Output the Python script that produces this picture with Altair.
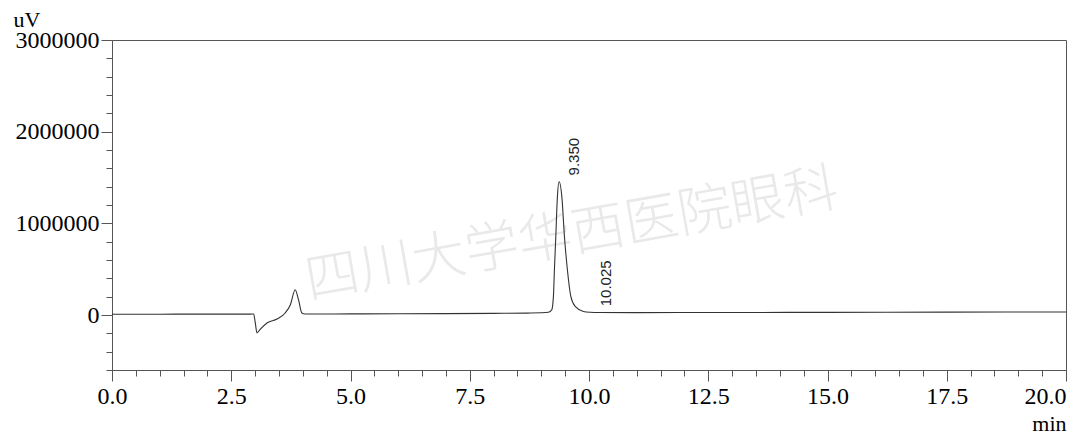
import altair as alt
import pandas as pd

# ---- chromatogram trace (retention time in min, signal in uV) ----
times = [0.0, 1.0, 2.0, 2.9, 2.97, 3.00, 3.04, 3.10, 3.25, 3.46, 3.63, 3.74, 3.84, 3.91, 3.98, 4.05,
         5.0, 6.0, 7.0, 8.0, 8.7, 9.0, 9.15, 9.22, 9.254, 9.275, 9.304, 9.338, 9.373, 9.43, 9.485,
         9.547, 9.619, 9.71, 9.883, 10.025, 10.2, 11.0, 12.5, 15.0, 17.5, 20.0]
signal = [8000, 9000, 10000, 10000, 11000, -73000, -196000, -160000, -87000, -44000, 22000, 112000,
          276000, 167000, 22000, 11000,
          12000, 13000, 15000, 18000, 21000, 24000, 30000, 58000, 203000, 494000, 857000, 1294000,
          1457000, 1294000, 857000, 494000, 203000, 94000, 39000, 30000, 27000, 26000, 27000, 29000,
          31000, 33000]

# ---- peak annotations ----
peak_times = [9.350, 10.025]
peak_heights = [1457000, 30000]
peak_labels = ["9.350", "10.025"]

# ---- axes ----
x_ticks = [0.0, 0.5, 1.0, 1.5, 2.0, 2.5, 3.0, 3.5, 4.0, 4.5, 5.0, 5.5, 6.0, 6.5, 7.0, 7.5, 8.0, 8.5,
           9.0, 9.5, 10.0, 10.5, 11.0, 11.5, 12.0, 12.5, 13.0, 13.5, 14.0, 14.5, 15.0, 15.5, 16.0,
           16.5, 17.0, 17.5, 18.0, 18.5, 19.0, 19.5, 20.0]
y_ticks = [-600000, -400000, -200000, 0, 200000, 400000, 600000, 800000, 1000000, 1200000, 1400000,
           1600000, 1800000, 2000000, 2200000, 2400000, 2600000, 2800000, 3000000]
x_title = "min"
y_title = "uV"
watermark = "四川大学华西医院眼科"

SERIF = "Liberation Serif"
AX = "#555555"

trace = pd.DataFrame({"t": times, "v": signal})
peaks = pd.DataFrame({"t": peak_times, "v": peak_heights, "label": peak_labels})

x_scale = alt.Scale(domain=[0, 20], nice=False, zero=False)
y_scale = alt.Scale(domain=[-600000, 3000000], nice=False, zero=False)

x_axis = alt.Axis(
    values=x_ticks,
    tickCount=200,
    grid=False,
    tickSize={"condition": {"test": "datum.value % 2.5 === 0", "value": 11}, "value": 6},
    labelExpr="datum.value % 2.5 === 0 ? format(datum.value, '.1f') : ''",
    labelAlign={"condition": {"test": "datum.value === 20", "value": "right"}, "value": "center"},
    labelOverlap=False,
    labelFont=SERIF, labelFontSize=24, labelColor="black", labelPadding=3,
    domainColor=AX, tickColor=AX, domainWidth=1, tickWidth=1,
    title=x_title, titleFont=SERIF, titleFontSize=22, titleFontWeight="normal",
    titleColor="black", titleAlign="right", titleBaseline="alphabetic",
    titleX=954, titleY=60,
)
y_axis = alt.Axis(
    values=y_ticks,
    tickCount=200,
    grid=False,
    tickSize={"condition": {"test": "datum.value % 1000000 === 0", "value": 11}, "value": 6},
    labelExpr="datum.value % 1000000 === 0 ? format(datum.value, 'd') : ''",
    labelOverlap=False,
    labelFont=SERIF, labelFontSize=24, labelColor="black", labelPadding=2,
    domainColor=AX, tickColor=AX, domainWidth=1, tickWidth=1,
    title=y_title, titleFont=SERIF, titleFontSize=22, titleFontWeight="normal",
    titleColor="black", titleAngle=0, titleAlign="left", titleBaseline="alphabetic",
    titleX=-99, titleY=-14,
)

wm = alt.Chart(pd.DataFrame({"w": [watermark]})).mark_text(
    angle=350, fontSize=54, font="Noto Sans CJK SC", fontWeight=300, color="#e9e9e9",
    align="center", baseline="middle",
).encode(text="w:N", x=alt.value(460), y=alt.value(196))

line = alt.Chart(trace).mark_line(
    interpolate="monotone", color="#333333", strokeWidth=1.1
).encode(
    x=alt.X("t:Q", scale=x_scale, axis=x_axis),
    y=alt.Y("v:Q", scale=y_scale, axis=y_axis),
)

labels = alt.Chart(peaks).mark_text(
    angle=270, align="left", baseline="middle", dx=6, dy=16,
    font="Liberation Sans", fontSize=15, color="#222222",
).encode(
    x=alt.X("t:Q", scale=x_scale),
    y=alt.Y("v:Q", scale=y_scale),
    text="label:N",
)

chart = alt.layer(wm, line, labels).properties(
    width=954, height=330,
    padding={"left": 104, "top": 32, "right": 6, "bottom": 66},
    autosize=alt.AutoSizeParams(type="none"),
    background="white",
).configure_view(stroke=AX, strokeWidth=1)

chart.save("out.html", embed_options={"renderer": "svg", "actions": False})
